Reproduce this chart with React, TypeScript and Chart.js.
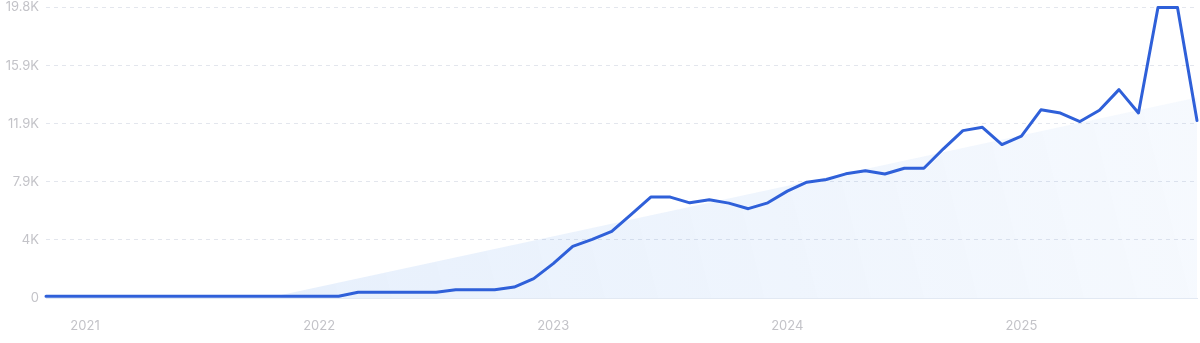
import React, { useEffect, useRef } from "react";
import { Chart, registerables } from "chart.js";

Chart.register(...registerables);

const months: string[] = [
  "2020-11", "2020-12",
  "2021-01", "2021-02", "2021-03", "2021-04", "2021-05", "2021-06", "2021-07", "2021-08", "2021-09", "2021-10", "2021-11", "2021-12",
  "2022-01", "2022-02", "2022-03", "2022-04", "2022-05", "2022-06", "2022-07", "2022-08", "2022-09", "2022-10", "2022-11", "2022-12",
  "2023-01", "2023-02", "2023-03", "2023-04", "2023-05", "2023-06", "2023-07", "2023-08", "2023-09", "2023-10", "2023-11", "2023-12",
  "2024-01", "2024-02", "2024-03", "2024-04", "2024-05", "2024-06", "2024-07", "2024-08", "2024-09", "2024-10", "2024-11", "2024-12",
  "2025-01", "2025-02", "2025-03", "2025-04", "2025-05", "2025-06", "2025-07", "2025-08", "2025-09", "2025-10",
];

const searches: number[] = [
  120, 120,
  120, 120, 120, 120, 120, 120, 120, 120, 120, 120, 120, 120,
  120, 120, 390, 390, 390, 390, 390, 570, 570, 570, 750, 1320,
  2350, 3520, 4000, 4550, 5710, 6890, 6890, 6500, 6710, 6480, 6100, 6500,
  7300, 7910, 8090, 8480, 8690, 8470, 8860, 8860, 10190, 11430, 11660, 10480,
  11050, 12850, 12630, 12050, 12820, 14230, 12640, 19840, 19840, 12120,
];

// trend line: only its two end points are given, the line spans the gap
const trend: (number | null)[] = [
  null, null,
  null, null, null, null, null, null, null, null, null, null, 180, null,
  null, null, null, null, null, null, null, null, null, null, null, null,
  null, null, null, null, null, null, null, null, null, null, null, null,
  null, null, null, null, null, null, null, null, null, null, null, null,
  null, null, null, null, null, null, null, null, null, 13700,
];

const yTickLabels: string[] = ["0", "4K", "7.9K", "11.9K", "15.9K", "19.8K"];
const yMax = 19840;

export default function App() {
  const ref = useRef<HTMLCanvasElement | null>(null);

  useEffect(() => {
    if (!ref.current) return;
    const chart = new Chart(ref.current, {
      type: "line",
      data: {
        labels: months,
        datasets: [
          {
            data: searches,
            borderColor: "#2f60d9",
            borderWidth: 3,
            pointRadius: 0,
            pointHoverRadius: 0,
            tension: 0,
            fill: false,
            borderJoinStyle: "round",
            borderCapStyle: "round",
            order: 1,
            clip: 4 as any,
          },
          {
            data: trend,
            spanGaps: true,
            borderWidth: 0,
            borderColor: "rgba(0,0,0,0)",
            pointRadius: 0,
            pointHoverRadius: 0,
            tension: 0,
            fill: "origin",
            order: 2,
            backgroundColor: (ctx: any) => {
              const area = ctx.chart.chartArea;
              if (!area) return "rgba(40,120,230,0.08)";
              const g = ctx.chart.ctx.createLinearGradient(area.left, area.bottom, area.right, area.top);
              g.addColorStop(0, "rgba(40,120,230,0.13)");
              g.addColorStop(1, "rgba(40,120,230,0.04)");
              return g;
            },
          },
        ],
      },
      options: {
        animation: false,
        responsive: false,
        devicePixelRatio: 1,
        layout: { autoPadding: false, padding: { top: 7.5, right: 3, left: 0, bottom: 0 } },
        plugins: { legend: { display: false }, tooltip: { enabled: false } },
        scales: {
          x: {
            type: "category",
            offset: false,
            grid: { display: false, drawTicks: false },
            border: { display: true, color: "#e2e9f3", width: 1 },
            ticks: {
              autoSkip: false,
              maxRotation: 0,
              padding: 20,
              color: "#c3c3c8",
              font: { family: "Inter", size: 13 },
              callback: (_v: any, i: number) => (months[i].endsWith("-01") ? months[i].slice(0, 4) : ""),
            },
            afterFit: (s: any) => {
              s.height = 45;
              s.paddingLeft = 0;
              s.paddingRight = 0;
            },
          },
          y: {
            min: 0,
            max: yMax,
            ticks: {
              count: 6,
              padding: 7,
              color: "#c3c3c8",
              font: { family: "Inter", size: 13 },
              callback: (_v: any, i: number) => yTickLabels[i],
            },
            grid: { color: "#e3e6ed", drawTicks: false, lineWidth: 1 },
            border: { display: false, dash: [4, 4] },
            afterFit: (s: any) => {
              s.width = 46;
              s.paddingTop = 0;
              s.paddingBottom = 0;
            },
          },
        },
      },
    });
    return () => chart.destroy();
  }, []);

  return (
    <div style={{ position: "fixed", left: 0, top: 0, width: 1200, height: 343, background: "#fff" }}>
      <canvas ref={ref} width={1200} height={343} style={{ width: 1200, height: 343, display: "block" }} />
    </div>
  );
}
